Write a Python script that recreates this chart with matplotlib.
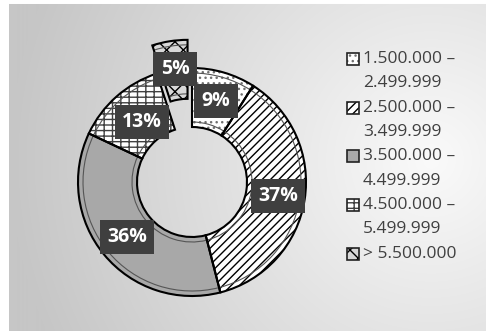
import numpy as np
import matplotlib.pyplot as plt
from matplotlib.patches import Rectangle

plt.rcParams['font.family'] = ['Open Sans', 'DejaVu Sans']
plt.rcParams['hatch.linewidth'] = 1.0

# data
labels = ['1.500.000 –\n2.499.999', '2.500.000 –\n3.499.999',
          '3.500.000 –\n4.499.999', '4.500.000 –\n5.499.999', '> 5.500.000']
shares = [9, 37, 36, 13, 5]
explode = [0, 0, 0, 0, 0.25]

# styles
fills = ['white', 'white', '#a8a8a8', 'white', '#d8d8d8']
hatches = ['...', '////', None, '-++', 'XX']
hcolors = ['#707070', 'black', '#a8a8a8', '#404040', 'black']
# label centres, image pixels
lab_pos = [(216, 101), (278, 196), (127, 237), (142, 122), (175, 69)]

W, H = 486, 331
fig = plt.figure(figsize=(W / 100, H / 100), dpi=100)
ax = fig.add_axes([0, 0, 1, 1])

# gradient background
yy, xx = np.mgrid[0:H, 0:W]
d = np.hypot(xx - 430, yy - 160)
g = (250 - 52 * np.clip(d / 420, 0, 1)) / 255
img = np.dstack([g, g, g])
img[:4, :] = 1
img[:, :9] = 1
ax.imshow(img, extent=(0, W, 0, H), origin='upper', zorder=0)

cx, cy, R, ring = 192, H - 182, 114, 59


def donut(radius, width, **kw):
    ws, _ = ax.pie(shares, center=(cx, cy), radius=radius, startangle=90,
                   counterclock=False, explode=[e * R for e in explode],
                   frame=True, wedgeprops=dict(width=width, **kw))
    return ws


wedges = donut(R, ring, linewidth=0)
for w, fc, h, hc in zip(wedges, fills, hatches, hcolors):
    w.set_facecolor(fc)
    w.set_edgecolor(hc)
    w.set_hatch(h)
    w.set_linewidth(0)
    w.set_zorder(2)

# bevel lines
for w in donut(R - 5, ring - 10, fill=False, edgecolor='#555555', linewidth=0.8):
    w.set_zorder(3)
# outlines
for w in donut(R, ring, fill=False, edgecolor='black', linewidth=1.5):
    w.set_zorder(4)

for s, (x, y) in zip(shares, lab_pos):
    ax.text(x, H - y, '{}%'.format(s), ha='center', va='center', color='white',
            fontsize=14, fontweight='bold', zorder=6,
            bbox=dict(boxstyle='square,pad=0.38', fc='#3f3f3f', ec='none'))

# legend
for i, (lab, fc, h, hc) in enumerate(zip(labels, fills, hatches, hcolors)):
    y0 = 59 + i * 48.7
    ax.add_patch(Rectangle((347, H - y0 - 6), 12, 12, facecolor=fc,
                           edgecolor=hc, hatch=h, linewidth=0, zorder=5))
    ax.add_patch(Rectangle((347, H - y0 - 6), 12, 12, fill=False,
                           edgecolor='#222222', linewidth=1.2, zorder=5))
    for j, line in enumerate(lab.split('\n')):
        ax.text(363, H - y0 - j * 24.3, line, ha='left', va='center',
                fontsize=12.5, color='#404040', zorder=5)

ax.set_xlim(0, W)
ax.set_ylim(0, H)
ax.set_aspect('auto')
ax.axis('off')

plt.savefig('out.png', dpi=100)
